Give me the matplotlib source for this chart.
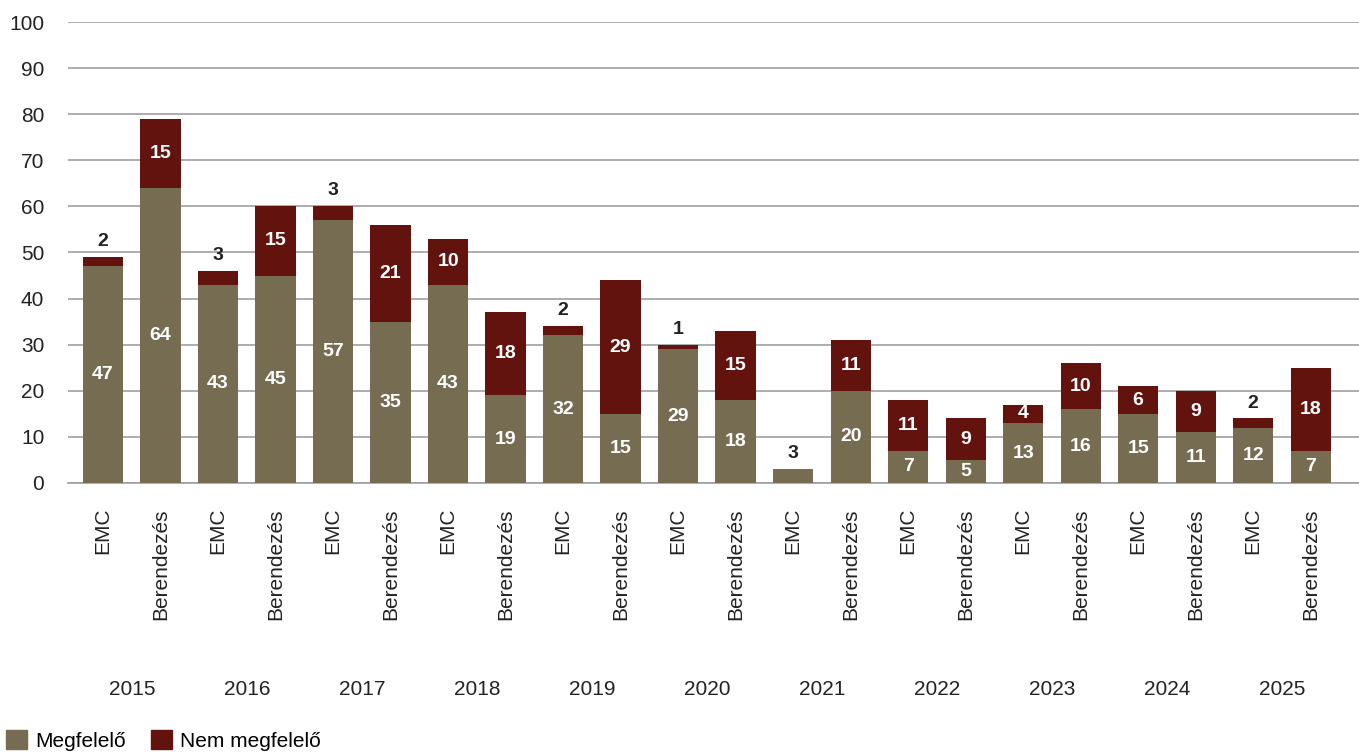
import numpy as np
import matplotlib
matplotlib.use('Agg')
import matplotlib.pyplot as plt
from matplotlib.patches import Patch

# Data
years = ['2015', '2016', '2017', '2018', '2019', '2020', '2021', '2022', '2023', '2024', '2025']
categories = ['EMC', 'Berendezés']
megfelelo = [47, 64, 43, 45, 57, 35, 43, 19, 32, 15, 29, 18, 3, 20, 7, 5, 13, 16, 15, 11, 12, 7]
nem_megfelelo = [2, 15, 3, 15, 3, 21, 10, 18, 2, 29, 1, 15, 0, 11, 11, 9, 4, 10, 6, 9, 2, 18]

OLIVE = '#766c52'
RED = '#62130e'
GRID = '#a0a0a0'

plt.rcParams['font.family'] = ['Liberation Sans', 'DejaVu Sans']

fig = plt.figure(figsize=(13.59, 7.53), dpi=100)
ax = fig.add_axes([0.05, 1 - 483 / 753, 0.95, 461 / 753])

x = np.arange(len(megfelelo))
labels = [categories[i % 2] for i in x]
width = 0.70

ax.bar(x, megfelelo, width, color=OLIVE, zorder=3)
ax.bar(x, nem_megfelelo, width, bottom=megfelelo, color=RED, zorder=3)

# value labels
for i in x:
    a, b = megfelelo[i], nem_megfelelo[i]
    top = a + b
    if b == 0:
        ax.text(i, top + 1.5, str(a), ha='center', va='bottom', fontsize=14,
                fontweight='bold', color='#222222')
        continue
    ax.text(i, a / 2, str(a), ha='center', va='center', fontsize=14,
            fontweight='bold', color='white', zorder=4)
    if b >= 4:
        ax.text(i, a + b / 2, str(b), ha='center', va='center', fontsize=14,
                fontweight='bold', color='white', zorder=4)
    else:
        ax.text(i, top + 1.5, str(b), ha='center', va='bottom', fontsize=14,
                fontweight='bold', color='#222222')

# axes settings
ax.set_ylim(0, 100)
ax.set_xlim(-0.61, 21.84)
ax.set_yticks(range(0, 101, 10))
ax.yaxis.grid(True, color=GRID, linewidth=1.2, zorder=0)
ax.tick_params(axis='y', length=0, labelsize=15, pad=17, labelcolor='#222222')
ax.set_xticks(x)
ax.set_xticklabels(labels, rotation=90, fontsize=15, color='#222222')
ax.tick_params(axis='x', length=0, pad=18)
for s in ['top', 'right', 'left']:
    ax.spines[s].set_visible(False)
ax.spines['bottom'].set_color(GRID)
ax.spines['bottom'].set_linewidth(1.2)

# year labels
for j, yr in enumerate(years):
    ax.text(2 * j + 0.5, -44.7, yr, ha='center', va='center', fontsize=15,
            color='#222222', clip_on=False)

# legend
handles = [Patch(color=OLIVE, label='Megfelelő'), Patch(color=RED, label='Nem megfelelő')]
fig.legend(handles=handles, loc='lower left', bbox_to_anchor=(0.0, -0.005), ncol=2,
           frameon=False, fontsize=15, handlelength=1.0, handleheight=1.0,
           handletextpad=0.4, columnspacing=1.2, borderaxespad=0.2, borderpad=0.1)

fig.savefig('out.png', dpi=100)
